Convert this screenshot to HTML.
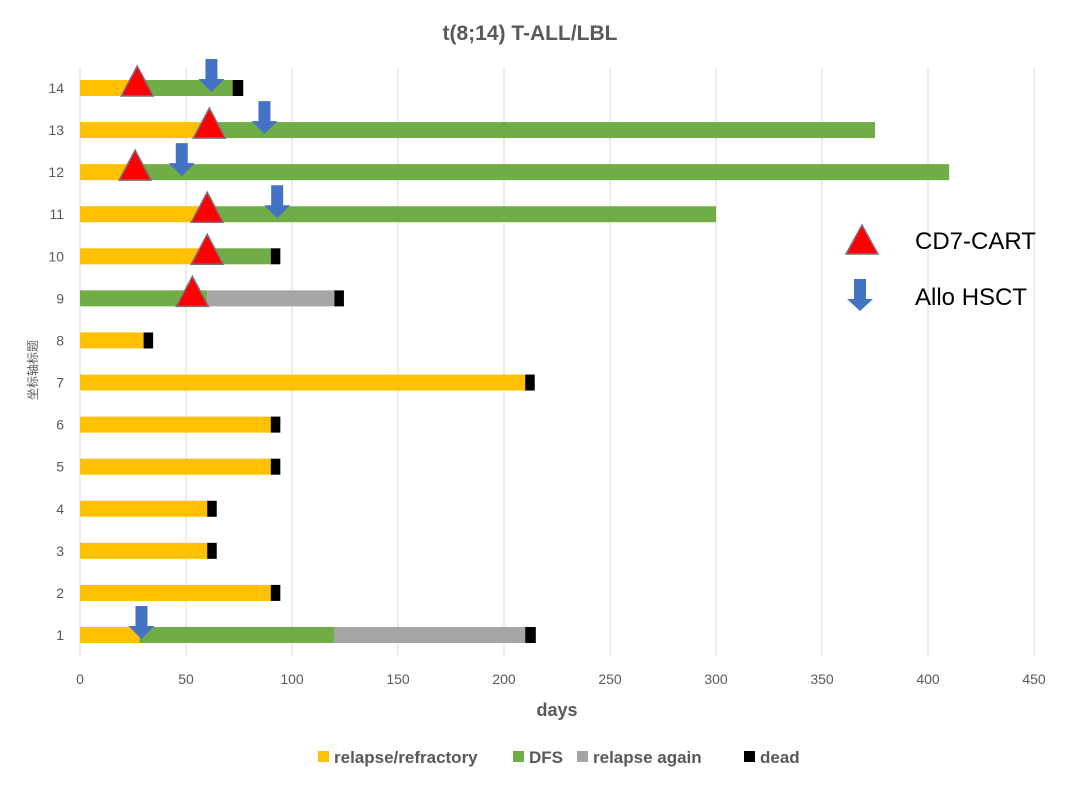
<!DOCTYPE html>
<html><head><meta charset="utf-8"><style>
body{margin:0;background:#fff;}
svg text{font-family:"Liberation Sans","Noto Sans CJK SC",sans-serif;}
</style></head><body>
<svg id="c" width="1066" height="784" xmlns="http://www.w3.org/2000/svg"></svg>
<script>
const rows=[1,2,3,4,5,6,7,8,9,10,11,12,13,14];
const relapse=[28,90,60,60,90,90,210,30,0,60,60,30,60,30];
const dfs=[92,0,0,0,0,0,0,0,60,30,240,380,315,42];
const relapseAgain=[90,0,0,0,0,0,0,0,60,0,0,0,0,0];
const dead=[5,4.5,4.5,4.5,4.5,4.5,4.5,4.5,4.5,4.5,0,0,0,5];
const cartRows=[14,13,12,11,10,9];
const cartDays=[27,61,26,60,60,53];
const hsctRows=[14,13,12,11,1];
const hsctDays=[62,87,48,93,29];
const xTicks=[0,50,100,150,200,250,300,350,400,450];
const NS='http://www.w3.org/2000/svg';
const svg=document.getElementById('c');
const x=d=>80+d*(954/450);
const y=r=>635-(r-1)*(547/13);
function mk(t,a,p){const e=document.createElementNS(NS,t);for(const k in a)e.setAttribute(k,a[k]);(p||svg).appendChild(e);return e;}
xTicks.forEach(t=>{
  const g=mk('line',{x1:x(t),x2:x(t),y1:68,y2:656,stroke:'#d9d9d9','stroke-width':1});
  
  
  const l=mk('text',{x:x(t),y:684,'text-anchor':'middle','font-size':14,fill:'#595959'});l.textContent=t;
  
  
});
const colors=['#ffc000','#70ad47','#a5a5a5','#000000'];
const series=[relapse,dfs,relapseAgain,dead];
rows.forEach((r,i)=>{
  const l=mk('text',{x:64,y:y(r)+5,'text-anchor':'end','font-size':14,fill:'#595959'});l.textContent=r;
  
  
  let acc=0;
  series.forEach((s,k)=>{
    if(s[i]>0){
      const b=mk('rect',{x:x(acc),y:y(r)-8,width:x(acc+s[i])-x(acc),height:16,fill:colors[k]});
      
      
    }
    acc+=s[i];
  });
});
function tri(cx,cy,p){return mk('polygon',{points:`${cx},${cy-22} ${cx-16},${cy+8} ${cx+16},${cy+8}`,fill:'#ff0000',stroke:'#7f6f7f','stroke-width':1.5},p);}
function arrow(cx,top,p){return mk('polygon',{points:`${cx-6},${top} ${cx+6},${top} ${cx+6},${top+20} ${cx+13},${top+20} ${cx},${top+33} ${cx-13},${top+20} ${cx-6},${top+20}`,fill:'#4472c4'},p);}
cartRows.forEach((r,i)=>{const t=tri(x(cartDays[i]),y(r));
  
  });
hsctRows.forEach((r,i)=>{const a=arrow(x(hsctDays[i]),y(r)-29);
  
  });
</script>
<svg style="position:absolute;left:0;top:0" width="1066" height="784">
<text x="530" y="40" text-anchor="middle" font-size="21" font-weight="bold" fill="#595959">t(8;14) T-ALL/LBL</text>
<text x="557" y="716" text-anchor="middle" font-size="18" font-weight="bold" fill="#595959">days</text>
<text transform="translate(37,370) rotate(-90)" text-anchor="middle" font-size="12" fill="#595959">坐标轴标题</text>
<g>
<polygon points="862,225 846,254 878,254" fill="#ff0000" stroke="#7f6f7f" stroke-width="1.5"/>
<text x="915" y="249" font-size="24" fill="#000">CD7-CART</text></g>
<g>
<polygon points="854,279 866,279 866,299 873,299 860,311 847,299 854,299" fill="#4472c4"/>
<text x="915" y="305" font-size="24" fill="#000">Allo HSCT</text></g>
<g font-size="17" font-weight="bold" fill="#595959">
<rect x="318" y="751" width="11" height="11" fill="#ffc000"/><text x="334" y="763">relapse/refractory</text>
<rect x="513" y="751" width="11" height="11" fill="#70ad47"/><text x="529" y="763">DFS</text>
<rect x="577" y="751" width="11" height="11" fill="#a5a5a5"/><text x="593" y="763">relapse again</text>
<rect x="744" y="751" width="11" height="11" fill="#000"/><text x="760" y="763">dead</text>
</g></svg>
</body></html>
